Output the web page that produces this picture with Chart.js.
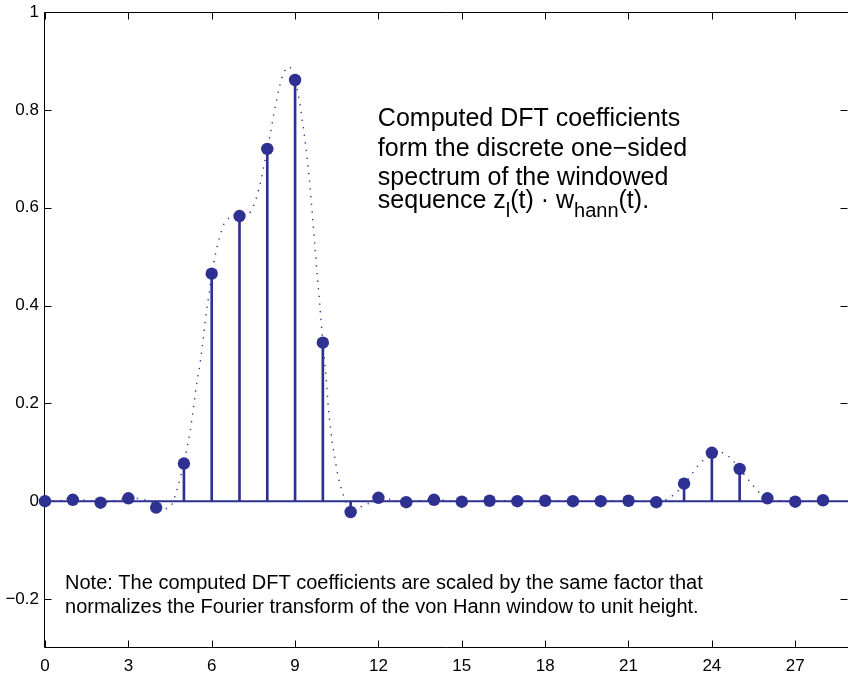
<!DOCTYPE html>
<html><head><meta charset="utf-8">
<script src="https://cdn.jsdelivr.net/npm/chart.js@4.4.0/dist/chart.umd.min.js"></script>
<style>html,body{margin:0;padding:0;background:#fff;overflow:hidden}canvas{display:block}</style>
</head><body>
<canvas id="c" width="848" height="676"></canvas>
<script>
// ---- data ----
const binIndex = [0,1,2,3,4,5,6,7,8,9,10,11,12,13,14,15,16,17,18,19,20,21,22,23,24,25,26,27,28];
const dftValues = [0.000,0.003,-0.003,0.006,-0.013,0.077,0.465,0.583,0.720,0.861,0.324,-0.022,0.007,-0.002,0.003,
                   -0.001,0.001,0.000,0.001,0.000,0.000,0.001,-0.002,0.036,0.099,0.066,0.006,-0.001,0.002];
// continuous (dotted) spectrum
const curveX = [0,0.5,1,1.5,2,2.5,3,3.5,4,4.38,4.6,4.74,4.87,5,5.11,5.22,5.34,5.46,5.6,5.71,5.81,5.94,6,6.07,6.19,6.34,6.44,6.6,
                6.8,7,7.2,7.4,7.52,7.62,7.76,7.88,8,8.11,8.21,8.32,8.45,8.52,8.63,8.74,8.88,9,9.13,9.25,9.38,9.5,9.62,9.75,9.88,10,
                10.12,10.21,10.34,10.44,10.54,10.69,10.8,11,11.3,11.6,12,12.5,13,13.5,14,15,16,17,18,19,20,21,22,22.38,22.62,22.83,
                23,23.21,23.37,23.57,23.77,24,24.26,24.53,24.74,25,25.3,25.47,25.67,26,26.43,27,28];
const curveY = [0,0.001,0.003,0.002,-0.003,0.001,0.006,0.004,-0.006,-0.015,-0.003,0.022,0.048,0.078,0.109,0.141,0.190,0.240,0.289,0.339,0.388,0.437,0.465,0.486,0.519,0.551,0.567,0.578,
                0.582,0.583,0.585,0.592,0.606,0.622,0.653,0.686,0.720,0.751,0.784,0.816,0.849,0.865,0.880,0.888,0.882,0.861,0.827,0.782,0.728,0.665,0.588,0.495,0.408,0.324,
                0.251,0.185,0.120,0.087,0.053,0.021,0.004,-0.022,-0.013,-0.006,0.007,0.003,-0.002,0.001,0.003,-0.001,0.001,0.000,0.001,0.000,0.000,0.001,-0.002,0.004,0.013,0.024,
                0.036,0.050,0.063,0.077,0.088,0.099,0.101,0.095,0.084,0.066,0.045,0.033,0.020,0.006,0.001,-0.001,0.002];
const xTickValues = [0,3,6,9,12,15,18,21,24,27];
const yTickValues = [-0.2,0,0.2,0.4,0.6,0.8,1];
const xLimits = [0, 28.9];
const yLimits = [-0.3, 1];
const annotationLines = ['Computed DFT coefficients','form the discrete one\u2212sided','spectrum of the windowed'];
const noteLines = ['Note: The computed DFT coefficients are scaled by the same factor that',
                   'normalizes the Fourier transform of the von Hann window to unit height.'];

// ---- styling ----
const BLUE = '#2e3192';
const FONT = '"Liberation Sans", Arial, Helvetica, sans-serif';

const pts = (xs, ys) => xs.map((x, i) => ({x, y: ys[i]}));

const framePlugin = {
  id: 'frame',
  beforeDatasetsDraw(chart) {
    const {ctx, chartArea: a, scales: {x, y}} = chart;
    ctx.save();
    ctx.strokeStyle = '#000';
    ctx.lineWidth = 1;
    ctx.beginPath();
    const L = Math.round(a.left) - 0.5, T = Math.round(a.top) + 0.5, B = Math.round(a.bottom) - 0.5, R = Math.round(a.right) - 0.5;
    ctx.moveTo(L, T); ctx.lineTo(a.right + 2, T);
    ctx.moveTo(L, T); ctx.lineTo(L, B);
    ctx.moveTo(L, B); ctx.lineTo(a.right + 2, B);
    ctx.moveTo(R + 1, T); ctx.lineTo(R + 1, B);
    const tl = 7;
    xTickValues.forEach(v => {
      const px = Math.round(x.getPixelForValue(v)) + 0.5;
      ctx.moveTo(px, B); ctx.lineTo(px, B - tl);
      ctx.moveTo(px, T); ctx.lineTo(px, T + tl);
    });
    yTickValues.forEach(v => {
      const py = Math.round(y.getPixelForValue(v)) + 0.5;
      ctx.moveTo(L, py); ctx.lineTo(L + tl, py);
      ctx.moveTo(R, py); ctx.lineTo(R - tl, py);
    });
    ctx.stroke();
    ctx.restore();
  },
  afterDraw(chart) {
    const {ctx, scales: {x, y}} = chart;
    const o = chart.options.plugins.frame;
    ctx.save();
    ctx.fillStyle = '#000';
    ctx.textBaseline = 'alphabetic';
    ctx.textAlign = 'left';
    // annotation block
    const ax = x.getPixelForValue(o.annotation.x), ay = y.getPixelForValue(o.annotation.y);
    ctx.font = o.annotation.size + 'px ' + FONT;
    annotationLines.forEach((t, i) => ctx.fillText(t, ax, ay + o.annotation.offsets[i]));
    // last line with subscripts
    const by = ay + o.annotation.offsets[3];
    const big = o.annotation.size + 'px ' + FONT, small = o.annotation.subSize + 'px ' + FONT;
    const parts = [['sequence z', big, 0], ['l', small, o.annotation.subDrop], ['(t) \u00b7 w', big, 0],
                   ['hann', small, o.annotation.subDrop], ['(t).', big, 0]];
    let cx = ax;
    parts.forEach(([t, f, d]) => { ctx.font = f; ctx.fillText(t, cx, by + d); cx += ctx.measureText(t).width; });
    // note block
    const nx = x.getPixelForValue(o.note.x), ny = y.getPixelForValue(o.note.y);
    ctx.font = o.note.size + 'px ' + FONT;
    noteLines.forEach((t, i) => ctx.fillText(t, nx, ny + i * o.note.lineGap));
    ctx.restore();
  }
};

const noScalePadding = s => { s.paddingTop = 0; s.paddingBottom = 0; s.paddingLeft = 0; s.paddingRight = 0; };

new Chart(document.getElementById('c'), {
  type: 'scatter',
  data: {
    datasets: [
      { // dotted continuous spectrum
        data: pts(curveX, curveY), showLine: true, pointRadius: 0, borderColor: BLUE,
        borderWidth: 1.4, borderDash: [1.3, 6.4], cubicInterpolationMode: 'monotone', order: 4
      },
      { // stem baseline
        data: [{x: xLimits[0], y: 0}, {x: xLimits[1], y: 0}], showLine: true, pointRadius: 0,
        borderColor: BLUE, borderWidth: 2, order: 3
      },
      { // stems
        type: 'bar', data: pts(binIndex, dftValues), backgroundColor: BLUE, borderWidth: 0,
        barThickness: 2, order: 2
      },
      { // markers
        data: pts(binIndex, dftValues), pointRadius: 6.2, pointHoverRadius: 6.2, backgroundColor: BLUE,
        borderWidth: 0, clip: false, order: 1
      }
    ]
  },
  options: {
    responsive: false, animation: false, devicePixelRatio: 1,
    layout: {autoPadding: false, padding: {top: 12, left: 0, right: 0, bottom: 0}},
    plugins: {
      legend: {display: false}, tooltip: {enabled: false},
      frame: {
        annotation: {x: 11.98, y: 0.766, size: 25, subSize: 20, subDrop: 9, offsets: [0, 30, 59, 82]},
        note: {x: 0.72, y: -0.1795, size: 20, lineGap: 24}
      }
    },
    scales: {
      x: {
        type: 'linear', min: xLimits[0], max: xLimits[1], offset: false,
        grid: {display: false, drawTicks: false, offset: false}, border: {display: false},
        afterBuildTicks: s => { s.ticks = xTickValues.map(v => ({value: v})); },
        afterFit: s => { s.height = 28; noScalePadding(s); },
        ticks: {font: {family: FONT, size: 17}, color: '#000', padding: 8, maxRotation: 0, autoSkip: false,
                callback: v => String(v)}
      },
      y: {
        min: yLimits[0], max: yLimits[1],
        grid: {display: false, drawTicks: false}, border: {display: false},
        afterBuildTicks: s => { s.ticks = yTickValues.map(v => ({value: v})); },
        afterFit: s => { s.width = 45; noScalePadding(s); },
        ticks: {font: {family: FONT, size: 17}, color: '#000', padding: 6, autoSkip: false,
                callback: v => { const r = Number(v.toFixed(1)); return r < 0 ? '\u2212' + Math.abs(r) : String(r); }}
      }
    }
  },
  plugins: [framePlugin]
});
</script>
</body></html>
